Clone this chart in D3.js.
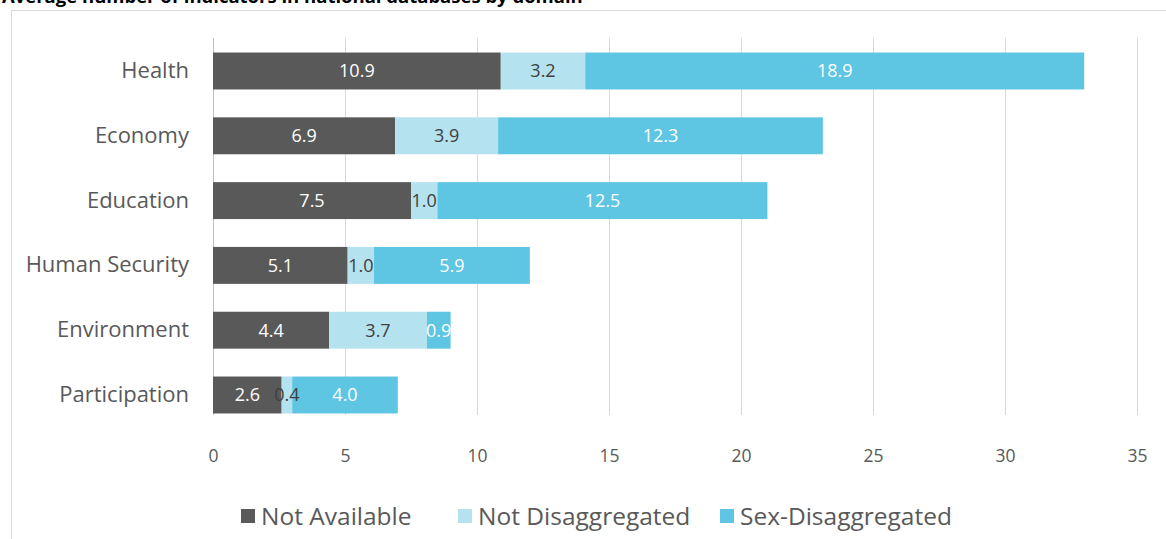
<!DOCTYPE html>
<html><head><meta charset="utf-8">
<script src="https://cdn.jsdelivr.net/npm/d3@7"></script>
<style>body{margin:0;background:#fff;overflow:hidden}svg{display:block}</style>
</head><body><svg id="c" width="1166" height="539"></svg>
<script>
const categories = ["Health","Economy","Education","Human Security","Environment","Participation"];
const seriesNames = ["Not Available","Not Disaggregated","Sex-Disaggregated"];
const notAvailable = [10.9,6.9,7.5,5.1,4.4,2.6];
const notDisaggregated = [3.2,3.9,1.0,1.0,3.7,0.4];
const sexDisaggregated = [18.9,12.3,12.5,5.9,0.9,4.0];
const xTicks = [0,5,10,15,20,25,30,35];
const title = "Average number of indicators in national databases by domain";

const colors = ["#595959","#b5e2ef","#5ec5e2"];
const labelColors = ["#ffffff","#404040","#ffffff"];
const series = [notAvailable, notDisaggregated, sexDisaggregated];
const font = "'Open Sans', sans-serif";

const svg = d3.select("#c");
svg.append("rect").attr("x",11.5).attr("y",10.5).attr("width",1200).attr("height",600)
  .attr("fill","none").attr("stroke","#d9d9d9");
svg.append("text").attr("x",2).attr("y",3).attr("font-family",font).attr("font-weight","bold")
  .attr("font-size",18.5).attr("fill","#000").text(title);

const x = d3.scaleLinear().domain([0,35]).range([213,1137]);
const y = d3.scaleBand().domain(categories).range([38.6,427.4]).paddingInner(0.43).paddingOuter(0.215);

svg.append("g").selectAll("line").data(xTicks).join("line")
  .attr("x1",d=>x(d)+0.5).attr("x2",d=>x(d)+0.5).attr("y1",38).attr("y2",415)
  .attr("stroke",d=>d===0?"#bfbfbf":"#d9d9d9").attr("stroke-width",1);

const xAxis = d3.axisBottom(x).tickValues(xTicks).tickSize(0).tickPadding(0);
const gx = svg.append("g").attr("transform","translate(0,450)").call(xAxis);
gx.select(".domain").remove();
gx.selectAll("text").attr("font-family",font).attr("font-size",17.5).attr("fill","#595959");

const yAxis = d3.axisLeft(y).tickSize(0).tickPadding(0);
const gy = svg.append("g").attr("transform","translate(189,0)").call(yAxis);
gy.select(".domain").remove();
gy.selectAll("text").attr("font-family",font).attr("font-size",22).attr("fill","#595959");

const stackData = categories.map((c,i)=>({cat:c, s0:series[0][i], s1:series[1][i], s2:series[2][i]}));
const stack = d3.stack().keys(["s0","s1","s2"])(stackData);
const barsG = svg.append("g"), labelsG = svg.append("g");
stack.forEach((layer,k)=>{
  barsG.append("g").selectAll("rect").data(layer).join("rect")
    .attr("x",d=>x(d[0])).attr("width",d=>x(d[1])-x(d[0]))
    .attr("y",d=>y(d.data.cat)).attr("height",y.bandwidth())
    .attr("fill",colors[k]);
  labelsG.append("g").selectAll("text").data(layer).join("text")
    .attr("x",d=>(x(d[0])+x(d[1]))/2).attr("y",d=>y(d.data.cat)+y.bandwidth()/2)
    .attr("dy","0.35em").attr("text-anchor","middle")
    .attr("font-family",font).attr("font-size",18).attr("fill",labelColors[k])
    .text(d=>(d[1]-d[0]).toFixed(1));
});

const legX = [241,458,720];
const leg = svg.append("g");
seriesNames.forEach((n,k)=>{
  leg.append("rect").attr("x",legX[k]).attr("y",509).attr("width",14).attr("height",14).attr("fill",colors[k]);
  leg.append("text").attr("x",legX[k]+20).attr("y",516).attr("dy","0.35em")
    .attr("font-family",font).attr("font-size",24.5).attr("fill","#595959").text(n);
});
</script></body></html>
